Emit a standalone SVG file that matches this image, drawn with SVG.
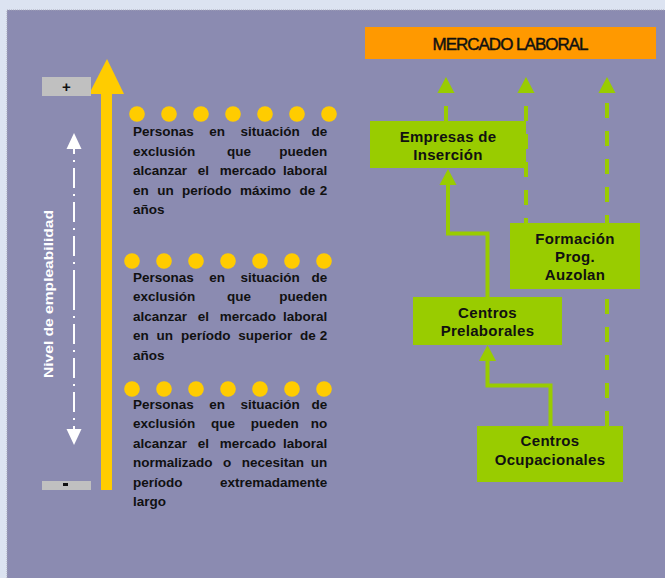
<svg xmlns="http://www.w3.org/2000/svg" width="665" height="578" viewBox="0 0 665 578">
<defs>
<style>
.lbl{font-family:"Liberation Sans",Arial,sans-serif;font-weight:bold;font-size:13.5px;fill:#111}
.box{fill:#99cc00}
.nt{font-family:"Liberation Sans",Arial,sans-serif;font-weight:bold;font-size:15px;fill:#111;text-anchor:middle;letter-spacing:0.3px}
.dot{fill:#ffcc00}
.solid{fill:none;stroke:#99cc00;stroke-width:4}
.dash{fill:none;stroke:#99cc00;stroke-width:4;stroke-dasharray:15 13}
.gray{fill:#c0c0c0}
</style>
<marker id="ga" markerUnits="userSpaceOnUse" markerWidth="16" markerHeight="18" viewBox="0 -8 15 16" refX="0" refY="0" orient="auto" overflow="visible">
<path d="M0,-8 L15,0 L0,8 Z" fill="#99cc00"/>
</marker>
<marker id="wa" markerUnits="userSpaceOnUse" markerWidth="16" markerHeight="18" viewBox="0 -8 16 16" refX="0" refY="0" orient="auto" overflow="visible">
<path d="M0,-7.5 L16,0 L0,7.5 Z" fill="#ffffff"/>
</marker>
</defs>

<rect x="0" y="0" width="665" height="578" fill="#dce3f1"/>
<rect x="7" y="10" width="658" height="568" fill="#8b8bb1"/>
<path d="M7,578 V10 H665" fill="none" stroke="#a8a8b8" stroke-width="1" stroke-dasharray="1 1"/>

<g id="scale">
<rect x="101" y="92" width="11" height="398" fill="#ffcc00"/>
<polygon points="107,59 124,94 89,94" fill="#ffcc00"/>
<rect class="gray" x="42" y="77" width="49" height="19"/>
<text x="66.5" y="92" font-family="Liberation Sans,Arial,sans-serif" font-weight="bold" font-size="15" text-anchor="middle" fill="#111">+</text>
<rect class="gray" x="42" y="481" width="49" height="9"/>
<rect x="63" y="483" width="5" height="3" fill="#111"/>
<line x1="74" y1="290" x2="74" y2="149" stroke="#ffffff" stroke-width="2" stroke-dasharray="20 6 2 6" marker-end="url(#wa)"/>
<line x1="74" y1="290" x2="74" y2="429" stroke="#ffffff" stroke-width="2" stroke-dasharray="20 6 2 6" marker-end="url(#wa)"/>
<text transform="translate(52.5,294) rotate(-90)" font-family="Liberation Sans,Arial,sans-serif" font-weight="bold" font-size="13.5" fill="#ffffff" text-anchor="middle" textLength="168" lengthAdjust="spacingAndGlyphs">Nivel de empleabilidad</text>
</g>

<g id="group1">
<circle class="dot" cx="137" cy="114" r="7.8"/><circle class="dot" cx="169" cy="114" r="7.8"/><circle class="dot" cx="201" cy="114" r="7.8"/><circle class="dot" cx="233" cy="114" r="7.8"/><circle class="dot" cx="265" cy="114" r="7.8"/><circle class="dot" cx="297" cy="114" r="7.8"/><circle class="dot" cx="329" cy="114" r="7.8"/>
<text class="lbl">
<tspan x="133" y="136">Personas</tspan><tspan x="209.3" y="136">en</tspan><tspan x="240.5" y="136">situación</tspan><tspan x="331" y="136" text-anchor="end">de</tspan>
<tspan x="133" y="155.5">exclusión</tspan><tspan x="227.1" y="155.5">que</tspan><tspan x="331" y="155.5" text-anchor="end">pueden</tspan>
<tspan x="133" y="175">alcanzar</tspan><tspan x="197.7" y="175">el</tspan><tspan x="219.7" y="175">mercado</tspan><tspan x="331" y="175" text-anchor="end">laboral</tspan>
<tspan x="133" y="194.5">en</tspan><tspan x="157.2" y="194.5">un</tspan><tspan x="182" y="194.5">período</tspan><tspan x="240" y="194.5">máximo</tspan><tspan x="299.4" y="194.5">de</tspan><tspan x="331" y="194.5" text-anchor="end">2</tspan>
<tspan x="133" y="214">años</tspan>
</text>
</g>

<g id="group2">
<circle class="dot" cx="132" cy="261" r="7.8"/><circle class="dot" cx="164" cy="261" r="7.8"/><circle class="dot" cx="196" cy="261" r="7.8"/><circle class="dot" cx="228" cy="261" r="7.8"/><circle class="dot" cx="260" cy="261" r="7.8"/><circle class="dot" cx="292" cy="261" r="7.8"/><circle class="dot" cx="324" cy="261" r="7.8"/>
<text class="lbl">
<tspan x="133" y="281.5">Personas</tspan><tspan x="209.3" y="281.5">en</tspan><tspan x="240.5" y="281.5">situación</tspan><tspan x="331" y="281.5" text-anchor="end">de</tspan>
<tspan x="133" y="301">exclusión</tspan><tspan x="227.1" y="301">que</tspan><tspan x="331" y="301" text-anchor="end">pueden</tspan>
<tspan x="133" y="320.5">alcanzar</tspan><tspan x="197.7" y="320.5">el</tspan><tspan x="219.7" y="320.5">mercado</tspan><tspan x="331" y="320.5" text-anchor="end">laboral</tspan>
<tspan x="133" y="340">en</tspan><tspan x="156.6" y="340">un</tspan><tspan x="180.9" y="340">período</tspan><tspan x="238.2" y="340">superior</tspan><tspan x="300" y="340">de</tspan><tspan x="331" y="340" text-anchor="end">2</tspan>
<tspan x="133" y="359.5">años</tspan>
</text>
</g>

<g id="group3">
<circle class="dot" cx="132" cy="389" r="7.8"/><circle class="dot" cx="164" cy="389" r="7.8"/><circle class="dot" cx="196" cy="389" r="7.8"/><circle class="dot" cx="228" cy="389" r="7.8"/><circle class="dot" cx="260" cy="389" r="7.8"/><circle class="dot" cx="292" cy="389" r="7.8"/><circle class="dot" cx="324" cy="389" r="7.8"/>
<text class="lbl">
<tspan x="133" y="408.5">Personas</tspan><tspan x="209.3" y="408.5">en</tspan><tspan x="240.5" y="408.5">situación</tspan><tspan x="331" y="408.5" text-anchor="end">de</tspan>
<tspan x="133" y="428">exclusión</tspan><tspan x="211" y="428">que</tspan><tspan x="250.7" y="428">pueden</tspan><tspan x="331" y="428" text-anchor="end">no</tspan>
<tspan x="133" y="447.5">alcanzar</tspan><tspan x="197.7" y="447.5">el</tspan><tspan x="219.7" y="447.5">mercado</tspan><tspan x="331" y="447.5" text-anchor="end">laboral</tspan>
<tspan x="133" y="467">normalizado</tspan><tspan x="223" y="467">o</tspan><tspan x="241.7" y="467">necesitan</tspan><tspan x="331" y="467" text-anchor="end">un</tspan>
<tspan x="133" y="486.5">período</tspan><tspan x="331" y="486.5" text-anchor="end">extremadamente</tspan>
<tspan x="133" y="506">largo</tspan>
</text>
</g>

<g id="connectors">
<line class="dash" x1="446" y1="121" x2="446" y2="93" marker-end="url(#ga)"/>
<line class="dash" x1="526" y1="289" x2="526" y2="93" marker-end="url(#ga)"/>
<line class="dash" x1="607" y1="426" x2="607" y2="93" marker-end="url(#ga)"/>
<polyline class="solid" points="487.5,297 487.5,233.5 448,233.5 448,185" marker-end="url(#ga)"/>
<polyline class="solid" points="550.5,426 550.5,385.5 487.5,385.5 487.5,361" marker-end="url(#ga)"/>
</g>

<g id="mercado">
<rect x="365" y="27" width="291" height="32" fill="#ff9900"/>
<text x="510" y="50" font-family="Liberation Sans,Arial,sans-serif" font-size="17" letter-spacing="-1" text-anchor="middle" fill="#111" stroke="#111" stroke-width="0.45">MERCADO LABORAL</text>
</g>

<g id="empresas">
<rect class="box" x="370" y="121" width="156" height="47"/>
<text class="nt" x="448" y="141.5">Empresas de</text>
<text class="nt" x="448" y="159.5">Inserción</text>
</g>

<g id="formacion">
<rect class="box" x="510" y="223" width="130" height="66"/>
<text class="nt" x="575" y="244">Formación</text>
<text class="nt" x="575" y="262">Prog.</text>
<text class="nt" x="575" y="280">Auzolan</text>
</g>

<g id="prelaborales">
<rect class="box" x="413" y="297" width="149" height="48"/>
<text class="nt" x="487.5" y="318">Centros</text>
<text class="nt" x="487.5" y="336">Prelaborales</text>
</g>

<g id="ocupacionales">
<rect class="box" x="477" y="426" width="146" height="56"/>
<text class="nt" x="550" y="446">Centros</text>
<text class="nt" x="550" y="464.5">Ocupacionales</text>
</g>
</svg>
